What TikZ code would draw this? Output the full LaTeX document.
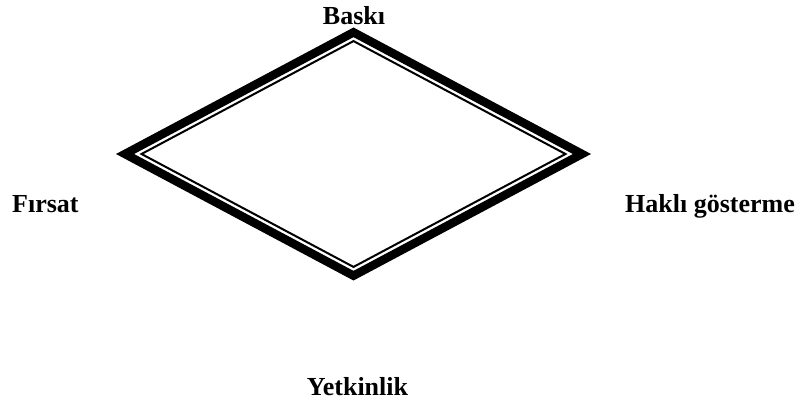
\documentclass[tikz,border=0pt]{standalone}
\usepackage{fontspec}
\setmainfont{Liberation Serif}
\begin{document}
\begin{tikzpicture}[x=1pt,y=-1pt,
  lbl/.style={font=\fontsize{26}{28}\selectfont\bfseries, inner sep=0pt},
  thickrim/.style={line width=8.5pt, line join=miter, miter limit=20},
  thinrim/.style={line width=2pt, line join=miter, miter limit=20}]
\useasboundingbox (0,0) rectangle (802,403);
% rhombus centre and half-diagonals of the outer edge
\coordinate (c) at (353.5,154);
\def\ha{237.5}\def\hb{126.5}
\def\apo{111.7}% distance from centre to the outer edge
% outer thick rim (centre line half a width inside the outer edge)
\begin{scope}[shift={(c)}, scale={(\apo-4.25)/\apo}]
  \draw[thickrim] (0,-\hb) -- (\ha,0) -- (0,\hb) -- (-\ha,0) -- cycle;
\end{scope}
% inner thin rim
\begin{scope}[shift={(c)}, scale={(\apo-12)/\apo}]
  \draw[thinrim] (0,-\hb) -- (\ha,0) -- (0,\hb) -- (-\ha,0) -- cycle;
\end{scope}
\node[lbl, anchor=base] (baski) at (354,25) {Baskı};
\node[lbl, anchor=base west] (firsat) at (12,212) {Fırsat};
\node[lbl, anchor=base east] (hakli) at (795,212) {Haklı gösterme};
\node[lbl, anchor=base] (yetkinlik) at (357.5,395) {Yetkinlik};
\end{tikzpicture}
\end{document}
